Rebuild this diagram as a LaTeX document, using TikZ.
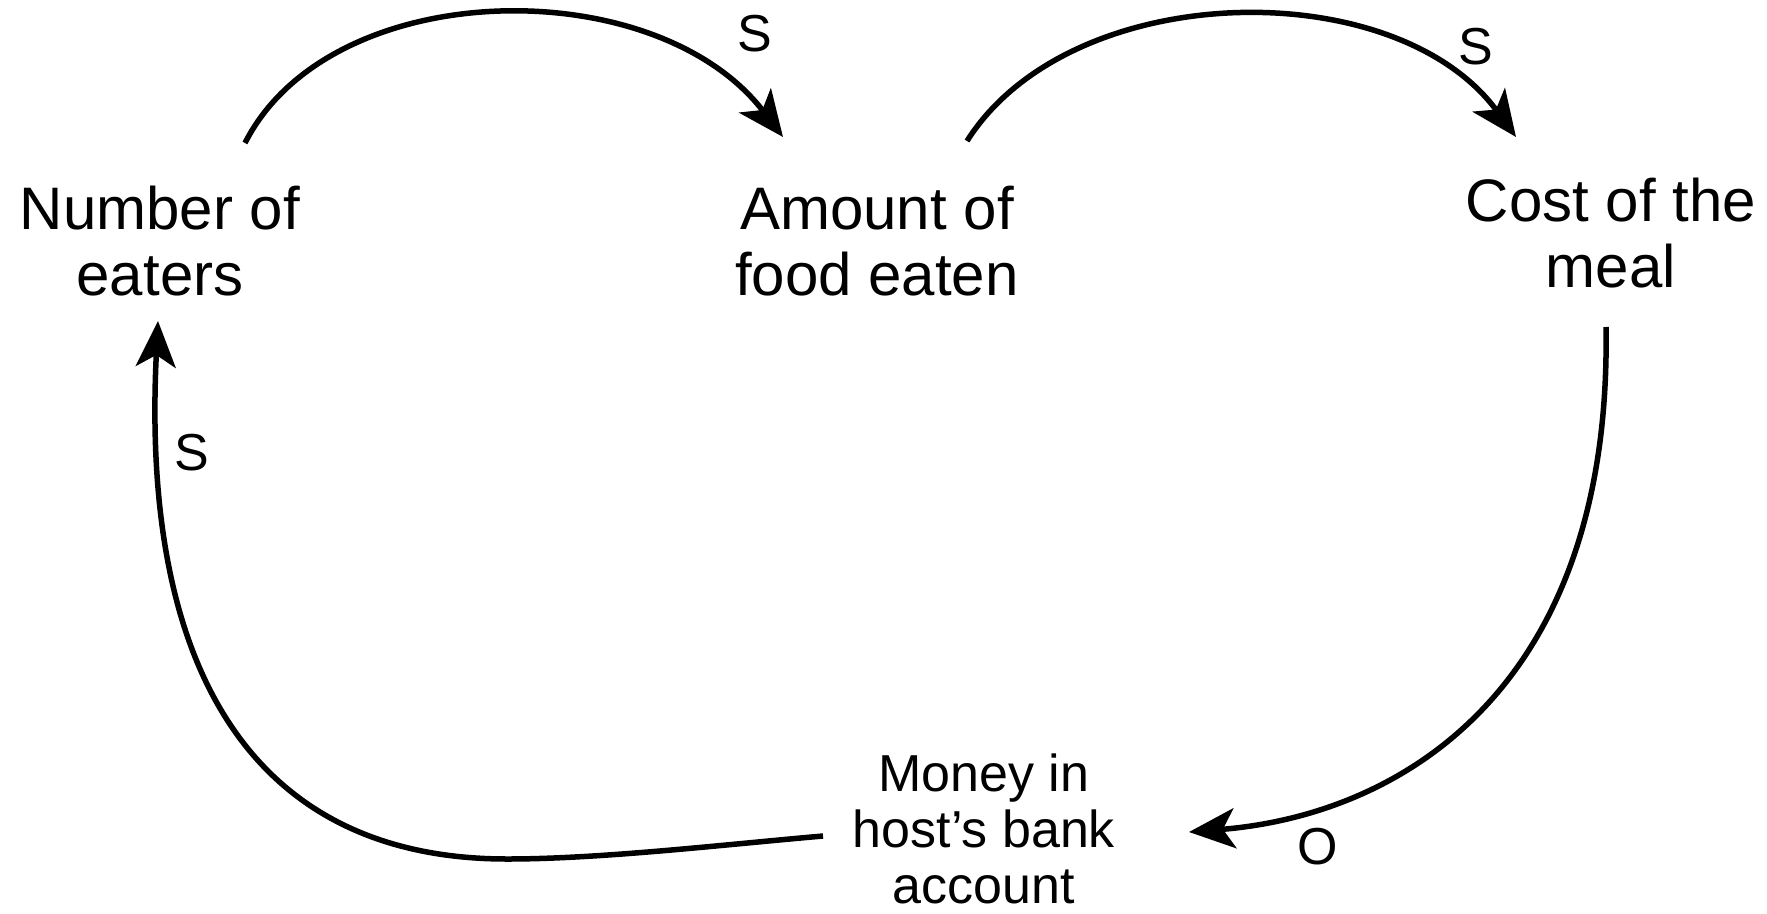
\documentclass[tikz,border=0pt]{standalone}
\usepackage{fontspec}
\setmainfont{Liberation Sans}
\usetikzlibrary{arrows.meta,calc}
\begin{document}
\begin{tikzpicture}[x=1pt,y=-1pt,
  var/.style={align=center,inner sep=0pt,font=\fontsize{60}{66}\selectfont},
  smallvar/.style={align=center,inner sep=0pt,font=\fontsize{52}{56}\selectfont},
  polarity/.style={inner sep=0pt,font=\fontsize{52}{56}\selectfont},
  link/.style={line width=5.5pt,-{Stealth[length=46pt,width=40pt,inset=12pt]}}]
\useasboundingbox (0,0) rectangle (1767,913);

% variables of the loop
\node[var] (eaters) at (160,241) {Number of\\eaters};
\node[var] (food) at (877,241) {Amount of\\food eaten};
\node[var] (cost) at (1611,233) {Cost of the\\meal};
\node[smallvar] (money) at (984,829) {Money in\\host’s bank\\account};

% causal links
\draw[link] ($(eaters)+(85,-98)$) .. controls (330,-25) and (655,-30) .. ($(food)+(-94,-104)$);
\draw[link] ($(food)+(90,-100)$) .. controls (1070,-22) and (1395,-28) .. ($(cost)+(-95,-96)$);
\draw[link] ($(cost)+(-5,94)$) .. controls (1612,690) and (1400,815) .. ($(money)+(205,3)$);
\draw[link] ($(money)+(-161,7)$) .. controls (720,845) and (600,859) .. (507,859)
  .. controls (260,859) and (140,680) .. ($(eaters)+(-2,80)$);

% polarity labels
\node[polarity] (s1) at (755,34) {S};
\node[polarity] (s2) at (1476,47) {S};
\node[polarity] (s3) at (192,453) {S};
\node[polarity] (o1) at (1318,847) {O};
\end{tikzpicture}
\end{document}
